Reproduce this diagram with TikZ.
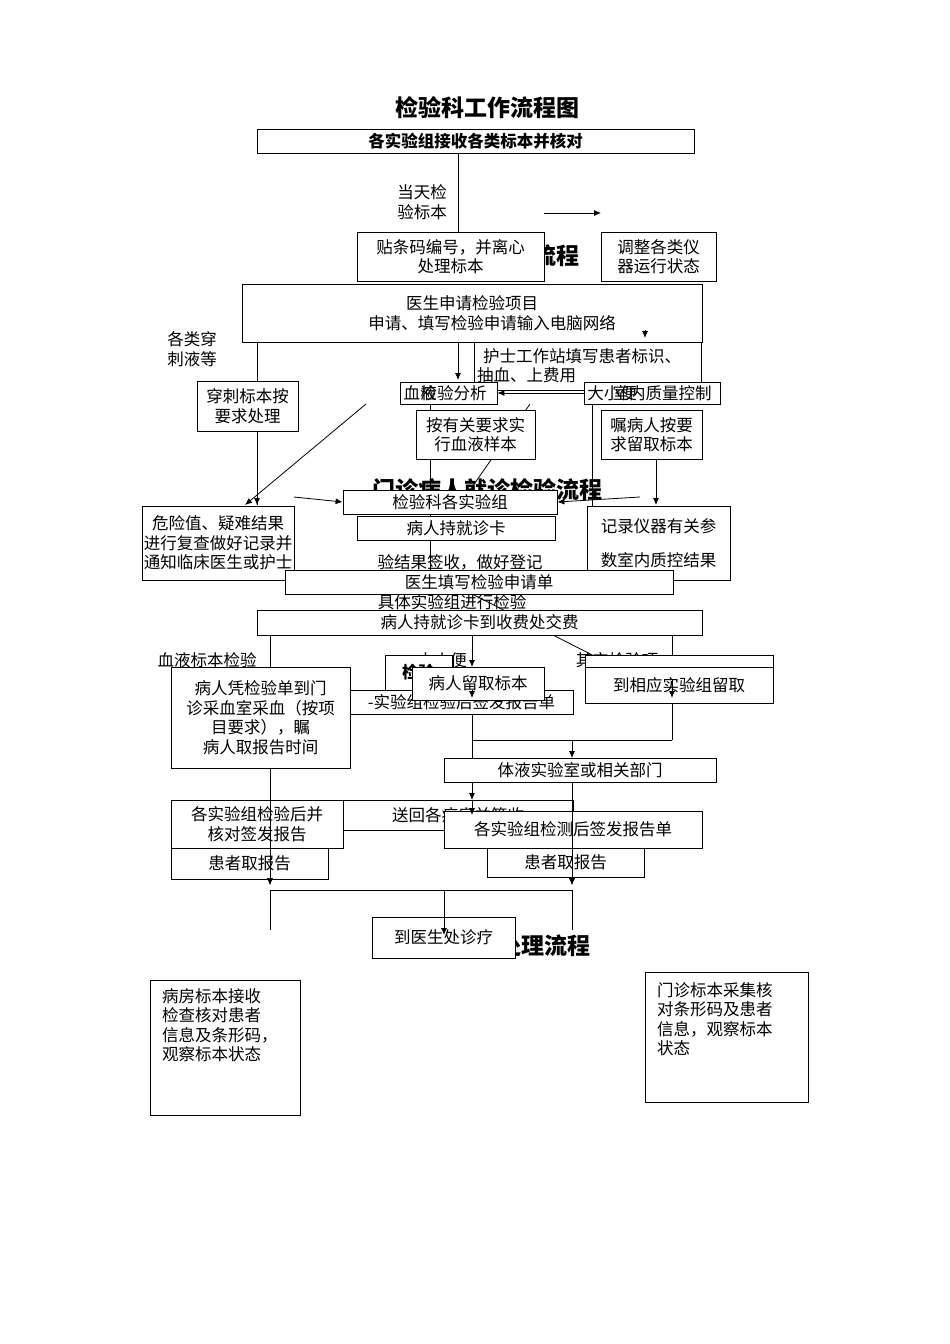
\documentclass[tikz,border=0pt]{standalone}
\usepackage{fontspec}
\setmainfont{Noto Sans CJK SC}
\usetikzlibrary{arrows.meta}
\begin{document}
\begin{tikzpicture}[x=1pt,y=-1pt,
  bx/.style={draw,fill=white,line width=0.8pt,inner sep=1pt,font=\fontsize{16.5}{19.5}\selectfont,align=center},
  tx/.style={inner sep=0pt,font=\fontsize{16.5}{19.5}\selectfont,align=left},
  ttl/.style={inner sep=0pt,font=\fontsize{23}{27}\selectfont\bfseries},
  ar/.style={-{Latex[length=7pt,width=6pt]},line width=0.8pt},
  ln/.style={line width=0.8pt}]
\useasboundingbox[fill=white] (0,0) rectangle (950,1344);
\newcommand\B[6]{\node[bx,minimum width={#4-#2},minimum height={#5-#3}] (#1) at ({(#2+#4)/2},{(#3+#5)/2}) {#6};}
% hidden titles
\node[ttl] (t1) at (487,108) {检验科工作流程图};
\node[ttl] (t2) at (487,256) {住院病人检验流程};
\node[ttl] (t3) at (487,490) {门诊病人就诊检验流程};
\node[ttl] (t4) at (487,946) {检验科标本处理流程};
% long lines
\draw[ln] (458,153) -- (458,245);
\draw[ar] (257,302) -- (257,505);
\draw[ar] (645,302) -- (645,335);
\draw[ar] (544,213) -- (601,213);
\draw[ln] (430,404) -- (430,570);
\draw[ln] (592,404) -- (592,570);
\draw[ar] (656,459) -- (656,505);
\draw[ar] (366,404) -- (245,505);
\draw[ln] (530,404) -- (470,490);
\draw[ar] (472,594) -- (616,667);
\draw[ar] (270,635) -- (270,700);
\draw[ar] (672,635) -- (672,695);
\draw[ln] (472,740) -- (672,740) (672,703) -- (672,740);
\draw[ar] (572,740) -- (572,758);
\draw[ar] (572,782) -- (572,885);
\draw[ar] (270,768) -- (270,885);
\draw[ar] (472,714) -- (472,800);
\draw[ln] (270,890) -- (572,890) (270,890) -- (270,930) (572,890) -- (572,930);
% top boxes
\B{a}{257}{129}{694}{153}{\bfseries 各实验组接收各类标本并核对}
\node[tx] (l1) at (422,202) {当天检\\验标本};
\B{b}{357}{232}{544}{281}{贴条码编号，并离心\\处理标本}
\B{c}{601}{232}{716}{281}{调整各类仪\\器运行状态}
\node[bx,minimum width=460,minimum height=58] (d) at (472,313) {医生申请检验项目\\\hspace{40pt}申请、填写检验申请输入电脑网络};
\node[bx,minimum width=227,minimum height=48,align=left,text width=222] (e) at (588,366) {\hspace{6pt}护士工作站填写患者标识、\\抽血、上费用};
\draw[ar] (458,342) -- (458,380);
\draw[ar] (645,330) -- (645,338);
\node[tx] (l2) at (192,349) {各类穿\\刺液等};
\B{f}{197}{381}{298}{431}{穿刺标本按\\要求处理}
\B{g}{400}{382}{497}{404}{\hspace{10pt}检验分析}
\node[tx] at (420,393) {血液};
\B{h}{584}{382}{720}{404}{\hspace{20pt}室内质量控制}
\node[tx] at (612,393) {大小便};
\draw[ar] (h.west) -- (g.east);
\B{i}{416}{410}{535}{459}{按有关要求实\\行血液样本}
\B{j}{601}{410}{702}{459}{嘱病人按要\\求留取标本}
\draw[ln] (257,431) -- (257,505);
% middle
\B{k}{142}{506}{294}{580}{危险值、疑难结果\\进行复查做好记录并\\通知临床医生或护士}
\B{m}{587}{506}{730}{580}{记录仪器有关参\\[14pt]数室内质控结果}
\B{n}{343}{490}{557}{514}{检验科各实验组}
\draw[ar] (294,497) -- (n.west);
\draw[ar] (640,497) -- (n.east);
\B{o}{357}{516}{555}{540}{病人持就诊卡}
\node[tx] (l3) at (460,562) {验结果签收，做好登记};
\B{p}{285}{570}{673}{594}{医生填写检验申请单}
\node[tx] (l4) at (452,602) {具体实验组进行检验};
\B{q}{257}{610}{702}{635}{病人持就诊卡到收费处交费}
\draw[ar] (q.south -| 472,0) -- (472,667);
\node[tx] (l5) at (207,660) {血液标本检验};
\node[tx] (l6) at (442,660) {大小便};
\node[tx] (l7) at (617,660) {其它检验项};
\B{r}{385}{655}{452}{690}{\bfseries 检验}
\B{s}{585}{655}{773}{703}{}
\B{s2}{585}{667}{773}{703}{到相应实验组留取}
\B{u}{350}{690}{573}{714}{-实验组检验后签发报告单}
\B{v}{412}{667}{544}{700}{病人留取标本}
\B{w}{171}{667}{350}{768}{病人凭检验单到门\\诊采血室采血（按项\\目要求），瞩\\病人取报告时间}
\draw[ar] (472,690) -- (472,698);
\draw[ar] (672,680) -- (672,698);
\B{x}{444}{758}{716}{782}{体液实验室或相关部门}
\B{y2}{343}{800}{573}{830}{送回各病房并签收}
\B{y}{171}{800}{343}{848}{各实验组检验后并\\核对签发报告}
\B{z}{171}{848}{328}{879}{患者取报告}
\B{z2}{487}{848}{644}{877}{患者取报告}
\B{aa}{444}{811}{702}{848}{各实验组检测后签发报告单}
\draw[ar] (270,800) -- (270,885);
\draw[ar] (572,800) -- (572,885);
\draw[ar] (472,800) -- (472,815);
\draw[ar] (444,890) -- (444,935);
\B{bb}{372}{917}{515}{958}{到医生处诊疗}
\draw[ar] (444,917) -- (444,935);
% bottom
\node[draw,line width=0.8pt,minimum width=150,minimum height=135,anchor=north west] (cc) at (150,980) {};
\node[tx,anchor=north west] at (162,988) {病房标本接收\\检查核对患者\\信息及条形码，\\观察标本状态};
\node[draw,line width=0.8pt,minimum width=163,minimum height=130,anchor=north west] (dd) at (645,972) {};
\node[tx,anchor=north west] at (657,982) {门诊标本采集核\\对条形码及患者\\信息，观察标本\\状态};
\end{tikzpicture}
\end{document}
